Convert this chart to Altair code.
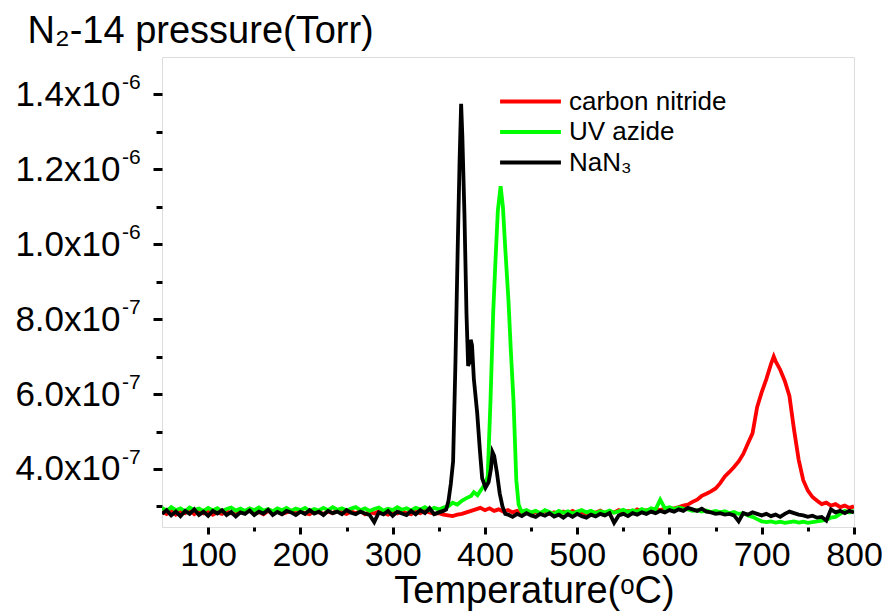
import altair as alt
import pandas as pd

SCALE = 1e-7  # values below are read in units of 1e-7 Torr

# ---------------- carbon nitride (red) ----------------
red_t = list(range(50, 711, 5)) + [713] + list(range(715, 805, 5))
red_v = [
    2.86, 2.80, 2.90, 2.78, 2.85, 2.82, 2.90, 2.79, 2.86, 2.81,
    2.88, 2.78, 2.84, 2.80, 2.87, 2.82, 2.78, 2.86, 2.83, 2.90,
    2.80, 2.85, 2.79, 2.88, 2.82, 2.86, 2.80, 2.84, 2.89, 2.81,
    2.86, 2.82, 2.79, 2.88, 2.84, 2.80, 2.86, 2.82, 2.90, 2.84,
    2.80, 2.86, 2.82, 2.88, 2.79, 2.85, 2.81, 2.87, 2.83, 2.78,
    2.85, 2.81, 2.88, 2.82, 2.79, 2.86, 2.82, 2.88, 2.84, 2.80,
    2.82, 2.78,
    2.76, 2.74, 2.78, 2.80, 2.84, 2.88, 2.92, 2.96, 2.90, 2.95,
    2.88, 2.92, 2.86, 2.90, 2.84, 2.88, 2.82,
    2.86, 2.80, 2.85, 2.82, 2.88, 2.80, 2.84, 2.79, 2.86, 2.82,
    2.88, 2.81, 2.85, 2.80, 2.86, 2.83, 2.89, 2.82, 2.86, 2.84,
    2.90, 2.85, 2.88, 2.84, 2.92, 2.87, 2.90, 2.86, 2.93, 2.90,
    2.94, 2.92,
    2.95, 2.98, 3.02, 3.05, 3.12, 3.18, 3.28, 3.34, 3.40, 3.48,
    3.62, 3.80, 3.92, 4.05, 4.20, 4.40, 4.68, 4.95, 5.65, 6.05,
    6.40, 6.80,
    7.00,
    6.88, 6.65, 6.35, 5.95, 5.05, 4.25, 3.70, 3.42, 3.25, 3.15,
    3.06, 3.10, 3.02, 3.06, 2.98, 3.02, 2.96, 3.00,
]

# ---------------- UV azide (green) ----------------
green_t = (list(range(50, 381, 5))
           + [385, 388, 392, 396, 400, 403, 406, 409, 411.5, 414, 417,
              419.5, 422, 425.5, 428, 431, 434, 436.5, 439]
           + list(range(440, 805, 5)))
green_v = [
    2.96, 2.88, 2.98, 2.90, 2.95, 2.87, 2.97, 2.90, 2.94, 2.88,
    2.96, 2.89, 2.95, 2.87, 2.93, 2.97, 2.89, 2.94, 2.88, 2.95,
    2.90, 2.97, 2.89, 2.93, 2.87, 2.95, 2.90, 2.96, 2.88, 2.94,
    2.90, 2.96, 2.88, 2.93, 2.89, 2.96, 2.90, 2.98, 2.91, 2.95,
    2.89, 2.94, 2.98, 2.90, 2.95, 2.88, 2.93, 2.97, 2.89, 2.94,
    2.90, 2.98, 2.91, 2.95, 2.89, 2.96, 2.92, 2.98, 2.90, 2.96,
    2.92, 2.97, 3.00, 3.10, 3.05, 3.15, 3.22,
    3.28, 3.38, 3.30, 3.45, 3.58, 3.80, 5.80, 8.20, 9.60, 10.90,
    11.55, 11.00, 9.90, 8.50, 7.20, 5.80, 3.70, 3.05, 2.90,
    2.86, 2.90, 2.84, 2.88, 2.82, 2.90, 2.85, 2.80, 2.88, 2.83,
    2.87, 2.81, 2.86, 2.90, 2.84, 2.88, 2.82, 2.87, 2.84, 2.89,
    2.83, 2.87, 2.91, 2.85, 2.90, 2.86, 2.93, 2.88, 2.95, 2.92,
    3.18, 2.95, 2.98, 2.93, 2.97, 2.94, 2.92, 2.88, 2.90, 2.86,
    2.89, 2.85, 2.88, 2.84, 2.87, 2.82, 2.85, 2.80, 2.82, 2.76,
    2.72, 2.66, 2.60, 2.58, 2.60, 2.57, 2.59, 2.56, 2.58, 2.60,
    2.57, 2.59, 2.56, 2.58, 2.60, 2.62, 2.64, 2.70, 2.72, 2.80,
    2.88, 2.84, 2.88,
]

# ---------------- NaN3 (black) ----------------
black_t = (list(range(50, 356, 5))
           + [358, 360.5, 363, 365.5, 368, 370.5, 372.5, 374.2, 375.5, 377.8,
              380, 381.8, 383.2, 384.6, 386, 388, 391.6, 394.5, 397, 400.6,
              404, 406.5, 408.2, 410, 413, 416, 419, 422]
           + list(range(425, 805, 5)))
black_v = [
    2.80, 2.90, 2.76, 2.86, 2.74, 2.88, 2.80, 2.92, 2.77, 2.86,
    2.75, 2.88, 2.81, 2.90, 2.77, 2.85, 2.73, 2.84, 2.80, 2.89,
    2.77, 2.86, 2.81, 2.91, 2.77, 2.85, 2.79, 2.88, 2.84, 2.77,
    2.86, 2.80, 2.90, 2.81, 2.86, 2.77, 2.88, 2.82, 2.86, 2.79,
    2.90, 2.83, 2.79, 2.86, 2.81, 2.77, 2.58, 2.84, 2.79, 2.88,
    2.75, 2.86, 2.81, 2.77, 2.88, 2.79, 2.90, 2.82, 2.95, 2.79,
    2.84, 2.88,
    2.92, 3.15, 3.60, 4.20, 6.80, 9.90, 12.20, 13.75, 12.90, 10.80,
    8.15, 6.75, 6.85, 7.45, 7.30, 6.40, 5.50, 4.50, 3.75, 3.50,
    3.65, 4.00, 4.45, 4.35, 3.90, 3.35, 3.00, 2.80,
    2.78, 2.72, 2.80, 2.74, 2.82, 2.76, 2.72, 2.80, 2.75, 2.82,
    2.73, 2.78, 2.70, 2.79, 2.72, 2.80, 2.74, 2.70, 2.78, 2.73,
    2.80, 2.76, 2.82, 2.56, 2.76, 2.80, 2.74, 2.82, 2.78, 2.84,
    2.80, 2.86, 2.82, 2.88, 2.84, 2.90, 2.86, 2.92, 2.88, 2.96,
    2.92, 2.88, 2.94, 2.86, 2.84, 2.80, 2.82, 2.78, 2.80, 2.76,
    2.60, 2.82, 2.78, 2.84, 2.80, 2.76, 2.80, 2.74, 2.78, 2.72,
    2.80, 2.86, 2.82, 2.78, 2.76, 2.72, 2.75, 2.70, 2.72, 2.62,
    2.92, 2.84, 2.88, 2.82, 2.88, 2.84,
]

series_names = ["carbon nitride", "UV azide", "NaN\u2083"]
series_colors = ["#ff0000", "#00ff00", "#000000"]

# y-axis tick labels: mantissa (axis label) + exponent (superscript)
y_major = [4e-7, 6e-7, 8e-7, 1.0e-6, 1.2e-6, 1.4e-6]
y_exponents = ["-7", "-7", "-7", "-6", "-6", "-6"]
y_ticks = [3e-7, 4e-7, 5e-7, 6e-7, 7e-7, 8e-7, 9e-7, 1.0e-6, 1.1e-6, 1.2e-6, 1.3e-6, 1.4e-6]
x_ticks = [100, 150, 200, 250, 300, 350, 400, 450, 500, 550, 600, 650, 700, 750, 800]

rows = []
for name, ts, vs in zip(series_names, [red_t, green_t, black_t], [red_v, green_v, black_v]):
    assert len(ts) == len(vs), (name, len(ts), len(vs))
    for t, v in zip(ts, vs):
        rows.append({"T": t, "P": v * SCALE, "series": name})
df = pd.DataFrame(rows)
sup_df = pd.DataFrame({"P": y_major, "exp": y_exponents})

FONT = "Liberation Sans"

y_label_expr = (
    "indexof([4,6,8], round(datum.value*1e7)) >= 0 ? "
    "format(datum.value*1e7, '.1f') + 'x10' : "
    "(indexof([10,12,14], round(datum.value*1e7)) >= 0 ? "
    "format(datum.value*1e6, '.1f') + 'x10' : '')"
)

y_scale = alt.Scale(domain=[2.45e-7, 1.5e-6], nice=False, zero=False)

lines = alt.Chart(df).mark_line(strokeWidth=3.8, clip=True).encode(
    x=alt.X(
        "T:Q",
        scale=alt.Scale(domain=[50, 800], nice=False, zero=False),
        axis=alt.Axis(
            values=x_ticks,
            labelExpr="datum.value % 100 == 0 ? datum.value : ''",
            title="Temperature(\u1d52C)",
            titleFontSize=38, titleFont=FONT, titleFontWeight="normal",
            titleColor="#000000",
            titleX=372, titleY=75, titleBaseline="alphabetic", titleAlign="center",
            labelFontSize=34, labelFont=FONT, labelColor="#000000",
            labelBaseline="alphabetic", labelPadding=31,
            tickSize={"condition": {"test": "datum.value % 100 != 0", "value": 4}, "value": 7},
            tickWidth=3, tickColor="#000000", domain=False, grid=False,
            labelFlush=False, labelOverlap=False,
        ),
    ),
    y=alt.Y(
        "P:Q",
        scale=y_scale,
        axis=alt.Axis(
            values=y_ticks,
            labelExpr=y_label_expr,
            title="N\u2082-14 pressure(Torr)",
            titleFontSize=38, titleFont=FONT, titleFontWeight="normal",
            titleColor="#000000",
            titleAngle=0, titleAlign="left", titleBaseline="alphabetic",
            titleX=-135, titleY=-15,
            labelFontSize=35, labelFont=FONT, labelColor="#000000",
            labelPadding=33,
            tickSize={"condition": {"test": "indexof([3,5,7,9,11,13], round(datum.value*1e7)) >= 0", "value": 6}, "value": 9},
            tickWidth=3, tickColor="#000000", domain=False, grid=False,
            labelFlush=False, labelOverlap=False,
        ),
    ),
    color=alt.Color(
        "series:N",
        scale=alt.Scale(domain=series_names, range=series_colors),
        legend=alt.Legend(
            title=None, orient="none", legendX=353, legendY=29,
            symbolType="M-2.3,0H2.3", symbolSize=700, symbolStrokeWidth=4,
            labelFontSize=26, labelFont=FONT, labelColor="#000000",
            labelOffset=23, rowPadding=1.5, padding=0,
        ),
    ),
)

sups = alt.Chart(sup_df).mark_text(
    align="left", baseline="alphabetic", fontSize=21, font=FONT, color="#000000", dy=-5,
).encode(
    x=alt.value(-40),
    y=alt.Y("P:Q", scale=y_scale),
    text="exp:N",
)

chart = alt.layer(lines, sups).properties(
    width=692, height=470,
    autosize=alt.AutoSizeParams(type="none"),
    padding={"left": 154, "top": 49, "right": 28, "bottom": 84},
).configure_view(
    stroke="#000000", strokeWidth=3,
).configure(background="white")

chart.save("out.html", embed_options={"renderer": "svg", "actions": False})
